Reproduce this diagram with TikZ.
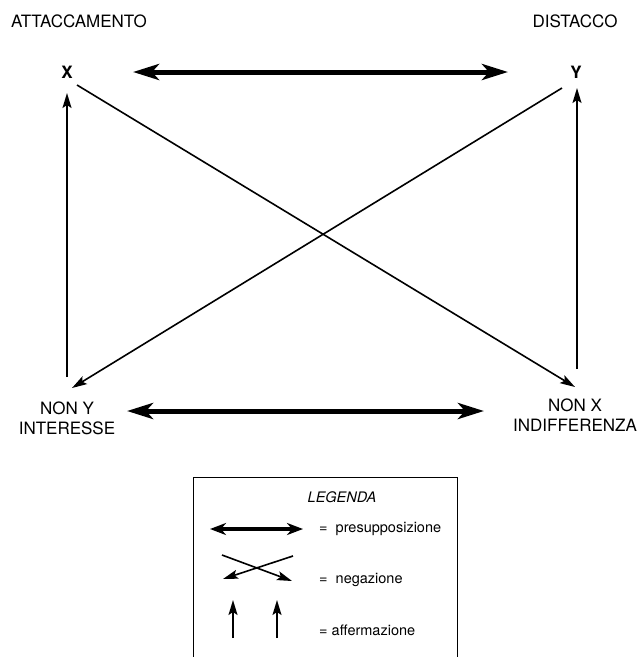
\documentclass[tikz,border=0pt]{standalone}
\usepackage{fontspec}
\setmainfont{TeX Gyre Heros}
\usetikzlibrary{arrows.meta}
\begin{document}
\begin{tikzpicture}[x=1pt,y=-1pt,
  lbl/.style={font=\fontsize{17}{20}\selectfont, align=center, inner sep=0pt},
  vtx/.style={font=\fontsize{17}{20}\selectfont\bfseries, inner sep=0pt},
  leg/.style={font=\fontsize{14.5}{17}\selectfont, inner sep=0pt, anchor=west},
  thick arrow/.style={line width=5pt, {Stealth[length=26pt,width=16pt,inset=7pt]}-{Stealth[length=26pt,width=16pt,inset=7pt]}},
  small thick arrow/.style={line width=3.5pt, {Stealth[length=16pt,width=12pt,inset=5pt]}-{Stealth[length=16pt,width=12pt,inset=5pt]}},
  thin arrow/.style={line width=1.6pt, -{Stealth[length=15pt,width=9pt,inset=3pt]}},
  legbox/.style={line width=1pt}]
\useasboundingbox (0,0) rectangle (640,657);
\fill[white] (0,0) rectangle (640,657);

% labels
\node[lbl] (att) at (79,21) {ATTACCAMENTO};
\node[lbl] (dis) at (575,21) {DISTACCO};
\node[vtx] (X) at (67,72) {X};
\node[vtx] (Y) at (576,72) {Y};
\node[lbl] (nony) at (67,418) {NON Y\\INTERESSE};
\node[lbl] (nonx) at (575,415) {NON X\\INDIFFERENZA};

% connector endpoints
\coordinate (tl) at (133,72);
\coordinate (tr) at (508,72);
\coordinate (bl) at (127,411);
\coordinate (br) at (484,411);
\coordinate (lbot) at (67,377);
\coordinate (ltop) at (67,93);
\coordinate (rbot) at (577,369);
\coordinate (rtop) at (577,88);
\coordinate (d1s) at (77,85);
\coordinate (d1e) at (575,387);
\coordinate (d2s) at (562,88);
\coordinate (d2e) at (72,388);

\draw[thick arrow] (tl) -- (tr);
\draw[thick arrow] (bl) -- (br);
\draw[thin arrow] (lbot) -- (ltop);
\draw[thin arrow] (rbot) -- (rtop);
\draw[thin arrow] (d1s) -- (d1e);
\draw[thin arrow] (d2s) -- (d2e);

% legend
\coordinate (boxbl) at (193,670);
\coordinate (boxtl) at (193,477);
\coordinate (boxtr) at (457,477);
\coordinate (boxbr) at (457,670);
\draw[legbox] (boxbl) -- (boxtl) -- (boxtr) -- (boxbr);
\node[font=\fontsize{14.5}{17}\selectfont\itshape, inner sep=0pt] (legt) at (342,497) {LEGENDA};

\coordinate (la1) at (210,529);
\coordinate (la2) at (303,529);
\draw[small thick arrow] (la1) -- (la2);
\node[leg] (lp) at (319,529) {=\ \ presupposizione};

\coordinate (n1s) at (222,555);
\coordinate (n1e) at (292,581);
\coordinate (n2s) at (293,556);
\coordinate (n2e) at (223,579);
\draw[thin arrow] (n1s) -- (n1e);
\draw[thin arrow] (n2s) -- (n2e);
\node[leg] (ln) at (319,580) {=\ \ negazione};

\coordinate (a1s) at (233,638);
\coordinate (a1e) at (233,600);
\coordinate (a2s) at (277,638);
\coordinate (a2e) at (277,600);
\draw[thin arrow] (a1s) -- (a1e);
\draw[thin arrow] (a2s) -- (a2e);
\node[leg] (la) at (319,630) {= affermazione};
\end{tikzpicture}
\end{document}
